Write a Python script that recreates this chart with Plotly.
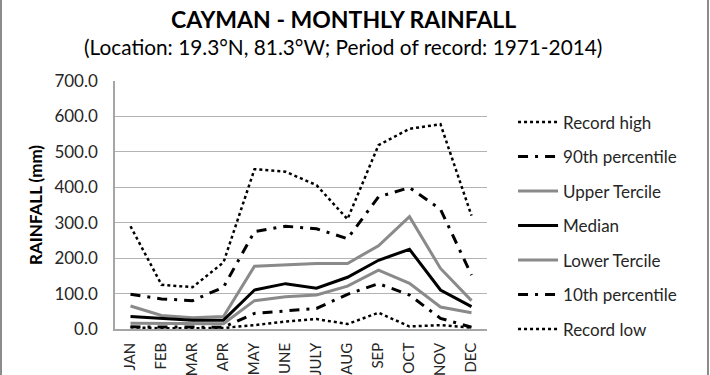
import plotly.graph_objects as go

months = ["JAN", "FEB", "MAR", "APR", "MAY", "JUNE", "JULY", "AUG", "SEP", "OCT", "NOV", "DEC"]

record_high = [290, 125, 118, 188, 451, 444, 406, 310, 519, 565, 578, 320]
pct90 = [98, 85, 80, 118, 275, 290, 283, 255, 373, 399, 338, 152]
upper_tercile = [65, 38, 32, 35, 177, 180, 185, 185, 235, 317, 171, 80]
median = [35, 30, 25, 25, 110, 128, 115, 146, 194, 225, 110, 63]
lower_tercile = [16, 15, 15, 15, 80, 91, 96, 121, 166, 129, 62, 46]
pct10 = [6, 5, 5, 5, 44, 51, 58, 98, 128, 96, 30, 5]
record_low = [5, 2, 2, 3, 11, 21, 28, 14, 46, 7, 11, 4]

series = [
    ("Record high", record_high, dict(color="black", width=2.5, dash="dot")),
    ("90th percentile", pct90, dict(color="black", width=3, dash="10px,7px,3px,7px")),
    ("Upper Tercile", upper_tercile, dict(color="#8a8a8a", width=3)),
    ("Median", median, dict(color="black", width=3)),
    ("Lower Tercile", lower_tercile, dict(color="#8a8a8a", width=3)),
    ("10th percentile", pct10, dict(color="black", width=3, dash="10px,7px,3px,7px")),
    ("Record low", record_low, dict(color="black", width=2.5, dash="dot")),
]

FONT = "Lato"

fig = go.Figure()
for i, (name, vals, line) in enumerate(series):
    fig.add_trace(go.Scatter(x=months, y=vals, name=name, mode="lines",
                             line=line, legendgroup=f"g{i}"))

fig.update_layout(
    width=710, height=375,
    margin=dict(l=115, r=223, t=81, b=46, autoexpand=False),
    paper_bgcolor="white", plot_bgcolor="white",
    font=dict(family=FONT, color="#262626"),
    showlegend=True,
    legend=dict(x=1.07, y=0.905, xanchor="left", yanchor="top",
                font=dict(size=17, family=FONT, color="#262626"),
                tracegroupgap=9.4, itemwidth=40, bgcolor="rgba(0,0,0,0)"),
    xaxis=dict(type="category", range=[-0.5, 11.5], tickangle=-90,
               showline=True, linecolor="#a6a6a6", linewidth=1.5,
               showgrid=False, ticks="", ticklabelstandoff=6, automargin=False,
               tickfont=dict(size=15, family=FONT, color="#262626")),
    yaxis=dict(range=[0, 700], dtick=100, tickformat=".1f",
               showline=True, linecolor="#a6a6a6", linewidth=1.5,
               showgrid=True, gridcolor="#b3b3b3", gridwidth=1.2,
               zeroline=False, ticks="", ticklabelstandoff=12, automargin=False,
               tickfont=dict(size=17, family=FONT, color="#262626")),
    annotations=[
        dict(text="<b>CAYMAN - MONTHLY RAINFALL</b>", xref="paper", yref="paper",
             x=(343 - 115) / 372, y=(329 - 19) / 248, xanchor="center", yanchor="middle",
             showarrow=False, font=dict(size=23, family=FONT, color="black")),
        dict(text="(Location: 19.3°N, 81.3°W; Period of record: 1971-2014)", xref="paper", yref="paper",
             x=(343 - 115) / 372, y=(329 - 47) / 248, xanchor="center", yanchor="middle",
             showarrow=False, font=dict(size=20.8, family=FONT, color="black")),
        dict(text="<b>RAINFALL (mm)</b>", xref="paper", yref="paper", textangle=-90,
             x=(35 - 115) / 372, y=(329 - 205) / 248, xanchor="center", yanchor="middle",
             showarrow=False, font=dict(size=17, family=FONT, color="black")),
    ],
    shapes=[
        dict(type="line", xref="paper", yref="paper", x0=(1 - 115) / 372, x1=(1 - 115) / 372,
             y0=-0.3, y1=1.4, line=dict(color="#8c8c8c", width=2)),
        dict(type="line", xref="paper", yref="paper", x0=(708 - 115) / 372, x1=(708 - 115) / 372,
             y0=-0.3, y1=1.4, line=dict(color="#8c8c8c", width=2)),
    ],
)

fig.write_html("out.html", config={"displayModeBar": False},
               post_script="document.body.style.margin='0';document.body.style.overflow='hidden';")
